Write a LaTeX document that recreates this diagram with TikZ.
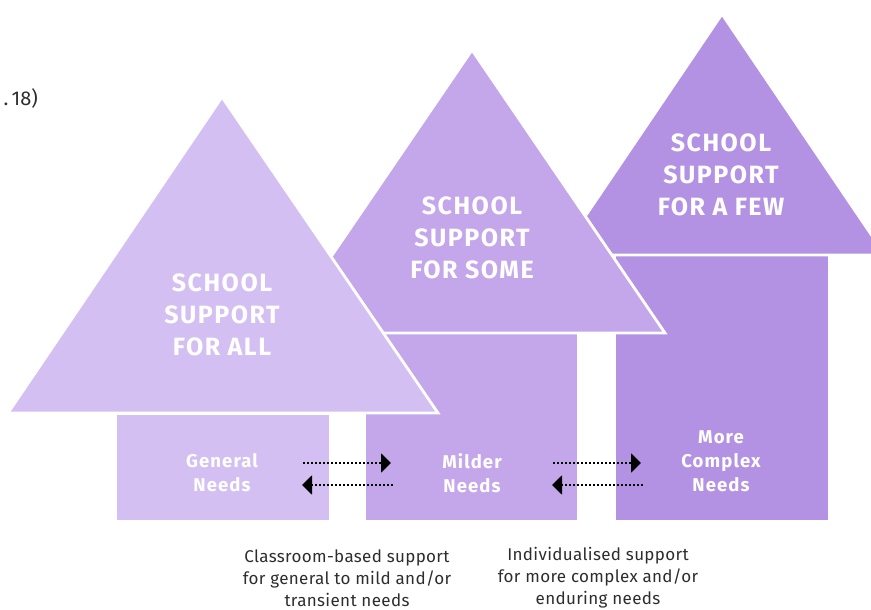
\documentclass[tikz,border=0pt]{standalone}
\usepackage{fontspec}
\setmainfont{Fira Sans}
\newfontfamily\widesans[LetterSpace=6]{Fira Sans}
\newfontfamily\notesans[LetterSpace=2]{Fira Sans}
\usetikzlibrary{arrows.meta}
\definecolor{tierone}{RGB}{211,191,241}
\definecolor{tiertwo}{RGB}{196,167,234}
\definecolor{tierthree}{RGB}{179,146,228}
\definecolor{notegray}{RGB}{45,45,45}

\tikzset{
  tier/.style={draw=white, line width=2.8pt, line join=miter},
  tiertitle/.style={text=white, font=\widesans\fontsize{25}{32}\selectfont\bfseries, align=center},
  needs/.style={text=white, font=\widesans\fontsize{18.5}{24}\selectfont\bfseries, align=center},
  note/.style={text=notegray, font=\notesans\fontsize{17}{22}\selectfont, align=center},
  flow/.style={line width=2pt, dotted, -{Triangle[length=10pt, width=19pt]}}
}

\begin{document}
\begin{tikzpicture}[x=1pt, y=-1pt]
\useasboundingbox (0,0) rectangle (871,610);
\clip (0,0) rectangle (871,610);

\filldraw[tier, fill=tierthree] (615,255) rectangle (829,521);
\filldraw[tier, fill=tierthree] (722,14) -- (885,255) -- (559,255) -- cycle;

\filldraw[tier, fill=tiertwo] (365,333) rectangle (578,521);
\filldraw[tier, fill=tiertwo] (472,50) -- (665,333) -- (279,333) -- cycle;

\filldraw[tier, fill=tierone] (116,414) rectangle (330,521);
\filldraw[tier, fill=tierone] (222,97) -- (438,413) -- (8,413) -- cycle;

\node[tiertitle] (all) at (222,315) {SCHOOL\\SUPPORT\\FOR ALL};
\node[tiertitle] (some) at (472,238) {SCHOOL\\SUPPORT\\FOR SOME};
\node[tiertitle] (few) at (721,175) {SCHOOL\\SUPPORT\\FOR A FEW};

\node[needs] (general) at (222,473) {General\\Needs};
\node[needs] (milder) at (472,473) {Milder\\Needs};
\node[needs] (complex) at (721,461) {More\\Complex\\Needs};

\node[note] (classroom) at (347,578) {Classroom-based support\\for general to mild and/or\\transient needs};
\node[note] (individual) at (598,578) {Individualised support\\for more complex and/or\\enduring needs};

\node[text=notegray, font=\fontsize{20}{24}\selectfont, anchor=east, inner xsep=0pt] (page) at (38,99) {.\,18)};

\coordinate (g1) at (303,463);
\coordinate (m1) at (391,463);
\coordinate (m2) at (393,485);
\coordinate (g2) at (302,485);
\coordinate (m3) at (553,463);
\coordinate (c1) at (641,463);
\coordinate (c2) at (643,485);
\coordinate (m4) at (552,485);

\draw[flow] (g1) -- (m1);
\draw[flow] (m2) -- (g2);
\draw[flow] (m3) -- (c1);
\draw[flow] (c2) -- (m4);
\end{tikzpicture}
\end{document}
